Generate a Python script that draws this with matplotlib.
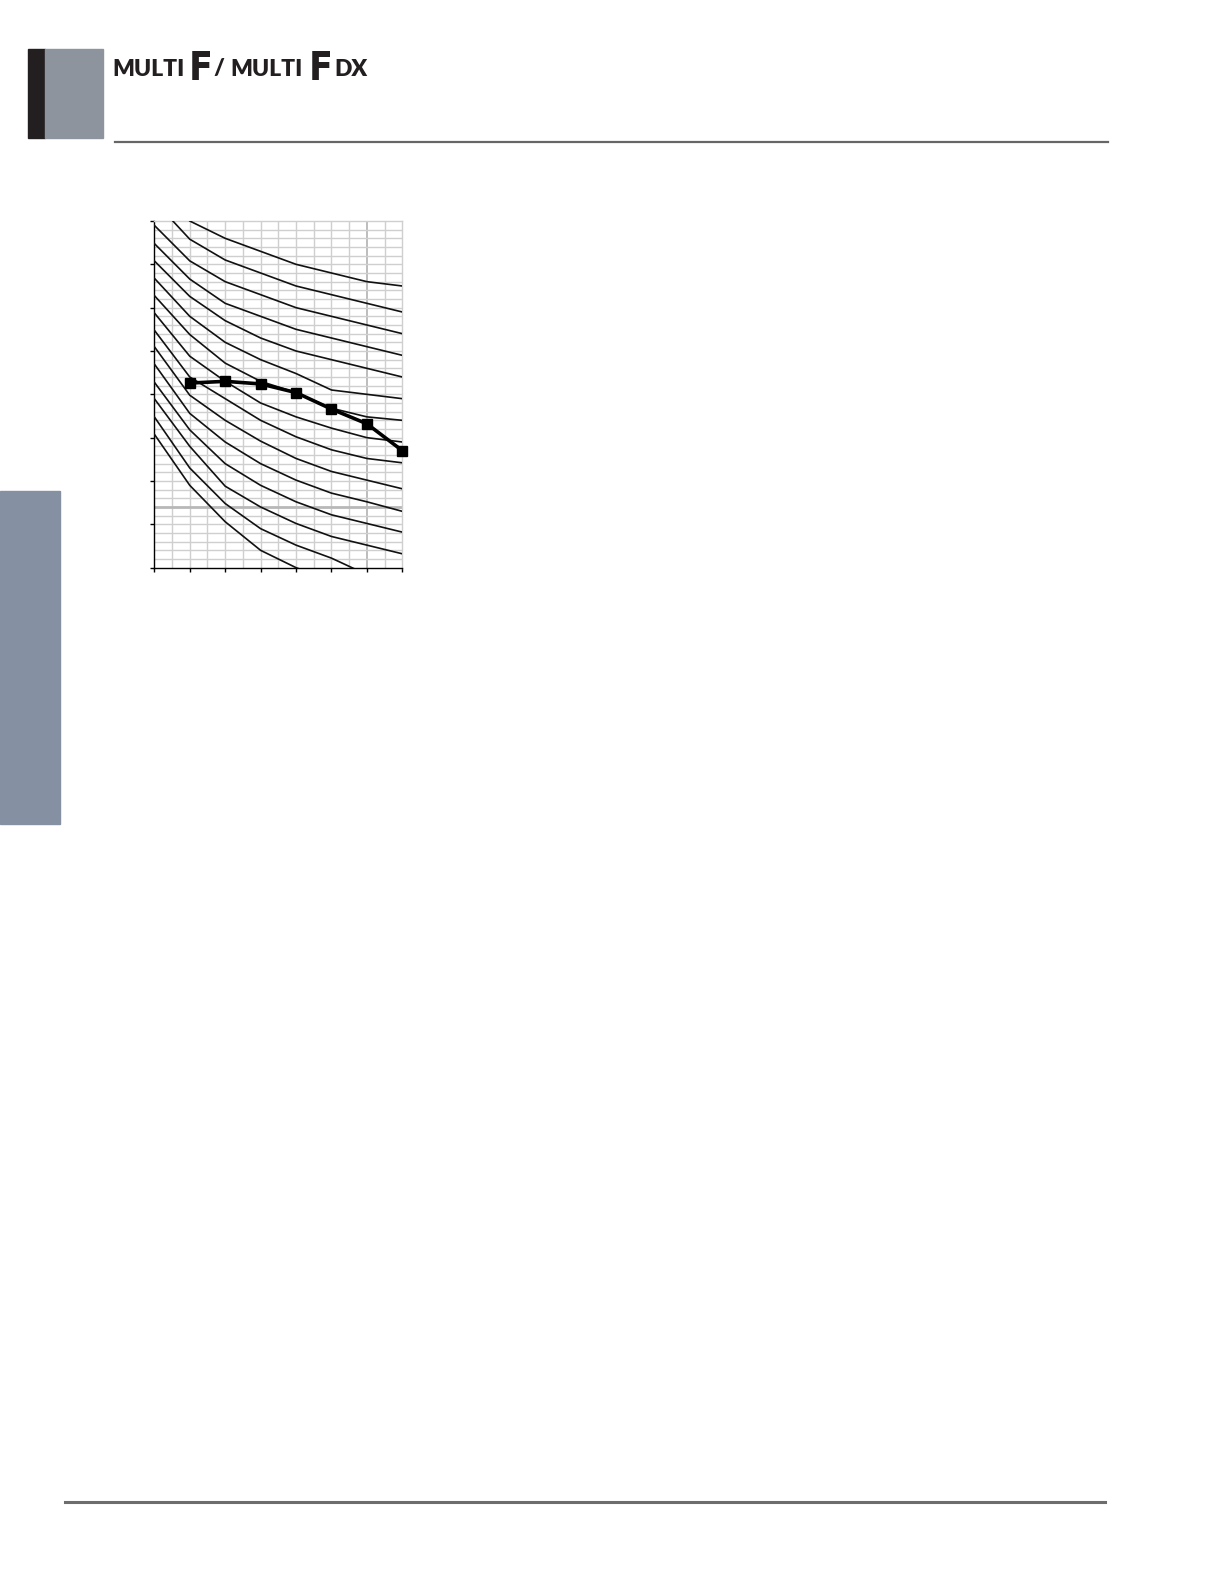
import matplotlib
matplotlib.use("Agg")
import matplotlib.pyplot as plt
from matplotlib.patches import Rectangle
from matplotlib.lines import Line2D
from matplotlib import font_manager
import numpy as np

W, H = 1219, 1587

# ---- data (x positions = major columns, y in minor grid units) ----
x_pts = [0, 1, 2, 3, 4, 5, 6, 7]
curve_01 = [44.0, 40.0, 38.0, 36.5, 35.0, 34.0, 33.0, 32.5]
curve_02 = [42.3, 37.9, 35.5, 34.0, 32.5, 31.5, 30.5, 29.5]
curve_03 = [39.5, 35.4, 33.0, 31.5, 30.0, 29.0, 28.0, 27.0]
curve_04 = [37.4, 33.3, 30.5, 29.0, 27.5, 26.5, 25.5, 24.5]
curve_05 = [35.4, 31.3, 28.5, 26.5, 25.0, 24.0, 23.0, 22.0]
curve_06 = [33.4, 29.0, 26.0, 24.0, 22.4, 20.5, 20.0, 19.5]
curve_07 = [31.4, 26.9, 23.6, 21.5, 20.2, 18.4, 17.4, 17.0]
curve_08 = [29.4, 24.4, 21.5, 19.0, 17.4, 16.1, 15.0, 14.5]
curve_09 = [27.4, 22.0, 19.5, 17.0, 15.1, 13.6, 12.6, 12.1]
curve_10 = [25.5, 19.9, 17.0, 14.6, 12.6, 11.1, 10.1, 9.1]
curve_11 = [23.5, 17.8, 14.5, 12.0, 10.1, 8.6, 7.6, 6.5]
curve_12 = [21.4, 15.9, 12.0, 9.5, 7.6, 6.1, 5.1, 4.1]
curve_13 = [19.5, 14.0, 9.4, 7.0, 5.1, 3.6, 2.6, 1.6]
curve_14 = [17.4, 11.5, 7.4, 4.5, 2.6, 1.1, -0.8, -2.0]
curve_15 = [15.4, 9.5, 5.3, 2.0, 0.0, -1.5, -3.0, -4.0]
curves = [curve_01, curve_02, curve_03, curve_04, curve_05, curve_06, curve_07,
          curve_08, curve_09, curve_10, curve_11, curve_12, curve_13, curve_14, curve_15]

main_x = [1, 2, 3, 4, 5, 6, 7]
main_y = [21.3, 21.5, 21.2, 20.2, 18.3, 16.6, 13.5]

x_major = [0, 1, 2, 3, 4, 5, 6, 7]
y_major = [0, 5, 10, 15, 20, 25, 30, 35, 40]

header_parts = ["MULTI", "F", "/", "MULTI", "F", "DX"]

fig = plt.figure(figsize=(W / 100, H / 100), dpi=100)

def fx(px):
    return px / W

def fy(py):
    return 1 - py / H

# pick a narrow font for the big "F"
names = {f.name for f in font_manager.fontManager.ttflist}
if "Liberation Sans Narrow" in names:
    f_family, f_stretch = "Liberation Sans Narrow", "normal"
else:
    f_family, f_stretch = "DejaVu Sans", "condensed"

# ---- page decorations ----
fig.patches.append(Rectangle((fx(28), fy(138.3)), fx(45) - fx(28), (138.3 - 49) / H,
                             transform=fig.transFigure, color="#231f20", zorder=1))
fig.patches.append(Rectangle((fx(45), fy(138.3)), fx(102.7) - fx(45), (138.3 - 49) / H,
                             transform=fig.transFigure, color="#8e949e", zorder=1))
fig.patches.append(Rectangle((0, fy(824)), fx(60), (824 - 491) / H,
                             transform=fig.transFigure, color="#8591a2", zorder=1))
fig.lines.append(Line2D([fx(115), fx(1108)], [fy(141.7), fy(141.7)],
                        transform=fig.transFigure, color="#666666", lw=1.6))
fig.lines.append(Line2D([fx(65), fx(1105)], [fy(1502), fy(1502)],
                        transform=fig.transFigure, color="#6d6d6d", lw=2.2))

# header text
hx = [112, 189, 213, 230, 309, 334]
for txt, px in zip(header_parts, hx):
    if txt == "F":
        fig.text(fx(px), fy(50), txt, fontsize=28, fontweight="bold",
                 family=f_family, fontstretch=f_stretch,
                 va="top", ha="left", color="#231f20")
    else:
        fig.text(fx(px), fy(75.5), txt, fontsize=16.5, fontweight="heavy",
                 family="Lato", va="baseline", ha="left", color="#231f20")

# ---- chart ----
left, right, top, bottom = 154.33, 402.34, 221.0, 567.67
ax = fig.add_axes([fx(left), fy(bottom), (right - left) / W, (bottom - top) / H])
ax.set_xlim(0, 7)
ax.set_ylim(0, 40)

# grid
for gx in np.arange(0.5, 7.0, 0.5):
    if gx == 6:
        ax.axvline(gx, color="#bdbdbd", lw=1.4, zorder=1)
    else:
        ax.axvline(gx, color="#cfcfcf", lw=1.0, zorder=1)
for gy in range(1, 40):
    if gy == 7:
        ax.axhline(gy, color="#b8b8b8", lw=2.0, zorder=1)
    else:
        ax.axhline(gy, color="#cfcfcf", lw=1.0, zorder=1)

for c in curves:
    ax.plot(x_pts, c, color="#111111", lw=1.2, zorder=3)

ax.plot(main_x, main_y, color="black", lw=2.6, marker="s", markersize=6.5,
        zorder=5, clip_on=False)

ax.set_xticks(x_major)
ax.set_yticks(y_major)
ax.set_xticklabels([])
ax.set_yticklabels([])
ax.tick_params(direction="out", length=3, width=1, color="black")
ax.tick_params(axis="x", which="both", top=False)
ax.tick_params(axis="y", which="both", right=False)
for s in ["left", "bottom"]:
    ax.spines[s].set_color("black")
    ax.spines[s].set_linewidth(1.0)
for s in ["top", "right"]:
    ax.spines[s].set_color("#cfcfcf")
    ax.spines[s].set_linewidth(1.0)

fig.savefig("out.png", dpi=100)
